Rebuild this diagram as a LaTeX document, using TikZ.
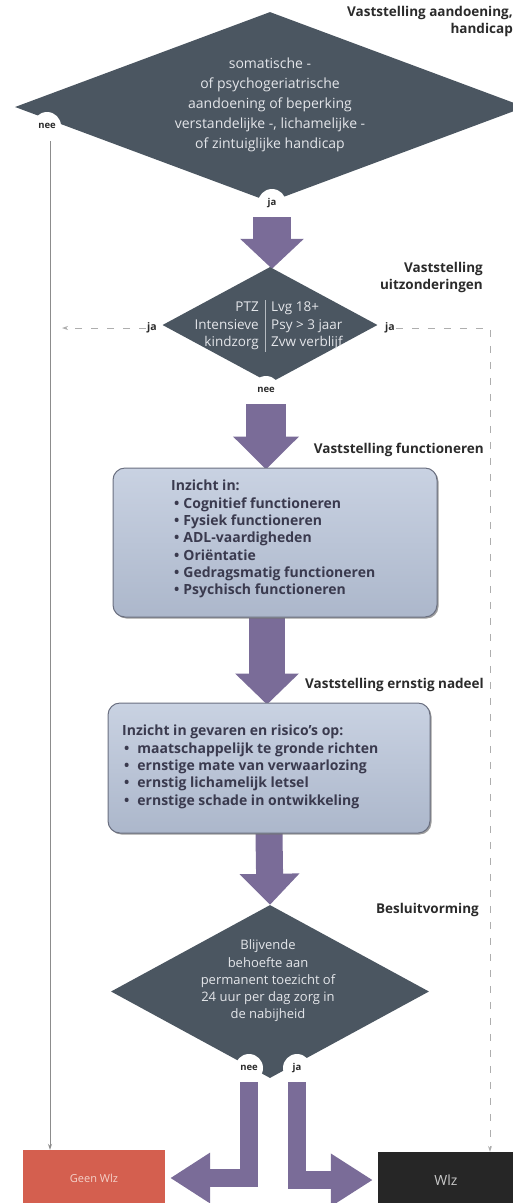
\documentclass[tikz,border=0pt]{standalone}
\usepackage{fontspec}
\setmainfont{Open Sans}
\usetikzlibrary{shapes.geometric,arrows.meta,shadows,backgrounds}
\definecolor{dia}{HTML}{4B5661}
\definecolor{purp}{HTML}{7A6C98}
\definecolor{boxA}{HTML}{C9D2E2}
\definecolor{boxB}{HTML}{ACB7CB}
\definecolor{boxedge}{HTML}{6A6F80}
\definecolor{boxtxt}{HTML}{3A3A4E}
\definecolor{lbl}{HTML}{2B2B2B}
\definecolor{diatxt}{HTML}{E4E6EA}
\definecolor{geen}{HTML}{D45F4F}
\definecolor{geentxt}{HTML}{F4D2CA}
\definecolor{wlz}{HTML}{262626}
\definecolor{wlztxt}{HTML}{C8C8C8}
\definecolor{lin}{HTML}{8C8C8C}
\tikzset{
  diabox/.style={diamond, fill=dia, inner sep=0pt},
  diatext/.style={text=diatxt, align=center, inner sep=0pt, font=\fontsize{14}{20}\selectfont},
  infobox/.style={rectangle, rounded corners=12pt, top color=boxA, bottom color=boxB, draw=boxedge, line width=1pt,
     drop shadow={shadow xshift=1.5pt, shadow yshift=-1.5pt, fill=black!55, opacity=0.7}},
  infotext/.style={text=boxtxt, align=left, inner sep=0pt, font=\bfseries\fontsize{14}{17.3}\selectfont},
  steplabel/.style={text=lbl, align=right, inner sep=0pt, font=\bfseries\fontsize{13.5}{17}\selectfont},
  circ/.style={circle, fill=white, minimum size=28pt, inner sep=0pt, text=lbl, font=\bfseries\fontsize{9.5}{10}\selectfont},
  jalbl/.style={text=lbl, inner sep=1pt, font=\bfseries\fontsize{10.5}{11}\selectfont},
  bigarrow/.style={purp, line join=miter},
  conn/.style={lin, line width=0.9pt},
  dconn/.style={lin!70, line width=0.9pt, dash pattern=on 7pt off 9pt},
  endbox/.style={rectangle, inner sep=0pt}
}
\begin{document}
\begin{tikzpicture}[x=1pt,y=-1pt]
\useasboundingbox (0,0) rectangle (512,1203);

% decision 1
\node[diabox, minimum width=510pt, minimum height=190pt] (d1) at (270,107) {};
\node[diatext] (t1) at (270,105) {somatische -\\of psychogeriatrische\\aandoening of beperking\\verstandelijke -, lichamelijke -\\of zintuiglijke handicap};
\node[circ] (nee1) at (47,126) {nee};
\node[circ] (ja1) at (272,203) {ja};
\node[steplabel, anchor=north east] (s1) at (513,6) {Vaststelling aandoening,\\handicap};

% decision 2
\node[diabox, minimum width=215pt, minimum height=116pt] (d2) at (270,325) {};
\node[diatext, align=right, anchor=east, font=\fontsize{13.5}{17.5}\selectfont] (t2a) at (259,326) {PTZ\\Intensieve\\kindzorg};
\node[diatext, align=left, anchor=west, font=\fontsize{13.5}{17.5}\selectfont] (t2b) at (271,326) {Lvg 18+\\Psy > 3 jaar\\Zvw verblijf};
\coordinate (dv1) at (265,300);
\coordinate (dv2) at (265,352);
\draw[diatxt!70!dia, line width=0.6pt] (dv1) -- (dv2);
\node[circ] (nee2) at (266,390) {nee};
\node[jalbl] (jl) at (152,328) {ja};
\node[jalbl] (jr) at (390,328) {ja};
\node[steplabel, anchor=north east] (s2) at (483,262) {Vaststelling\\uitzonderingen};

% functioneren
\node[steplabel, anchor=east] (s3) at (484,450) {Vaststelling functioneren};
\node[infobox, minimum width=324pt, minimum height=149pt] (b1) at (275,542.5) {};
\node[infotext, anchor=north west] (b1t) at (171,480) {Inzicht in:\\
\hspace{3pt}\textbullet\hspace{4pt}Cognitief functioneren\\
\hspace{3pt}\textbullet\hspace{4pt}Fysiek functioneren\\
\hspace{3pt}\textbullet\hspace{4pt}ADL-vaardigheden\\
\hspace{3pt}\textbullet\hspace{4pt}Oriëntatie\\
\hspace{3pt}\textbullet\hspace{4pt}Gedragsmatig functioneren\\
\hspace{3pt}\textbullet\hspace{4pt}Psychisch functioneren};

% ernstig nadeel
\node[steplabel, anchor=east] (s4) at (484,685) {Vaststelling ernstig nadeel};
\node[infobox, minimum width=322pt, minimum height=130pt] (b2) at (269,768) {};
\node[infotext, anchor=north west] (b2t) at (122,725) {Inzicht in gevaren en risico's op:\\
\hspace{2pt}\textbullet\hspace{8pt}maatschappelijk te gronde richten\\
\hspace{2pt}\textbullet\hspace{8pt}ernstige mate van verwaarlozing\\
\hspace{2pt}\textbullet\hspace{8pt}ernstig lichamelijk letsel\\
\hspace{2pt}\textbullet\hspace{8pt}ernstige schade in ontwikkeling};

% besluitvorming
\node[steplabel, anchor=east] (s5) at (479,910) {Besluitvorming};
\node[diabox, minimum width=318pt, minimum height=173pt] (d3) at (270,991.5) {};
\node[diatext, font=\fontsize{13}{17.2}\selectfont] (t3) at (268,981) {Blijvende\\behoefte aan\\permanent toezicht of\\24 uur per dag zorg in\\de nabijheid};
\node[circ] (nee3) at (249,1068) {nee};
\node[circ] (ja3) at (297,1068) {ja};

% end boxes
\node[endbox, fill=geen, text=geentxt, minimum width=142pt, minimum height=56pt, font=\fontsize{11}{12}\selectfont] (geen) at (94,1178) {Geen Wlz};
\node[endbox, fill=wlz, text=wlztxt, minimum width=136pt, minimum height=56pt, font=\fontsize{14}{14}\selectfont] (wlz) at (446,1180) {Wlz};

% connectors
\coordinate (l1) at (50,141);
\draw[conn, -{Stealth[length=6pt,width=4pt]}] (l1) -- (l1 |- geen.north);
\coordinate (lc) at (62,328);
\draw[dconn, -{Stealth[length=6pt,width=4pt]}] (jl.west) -- (lc);
\coordinate (rc) at (490,328);
\draw[dconn, -{Stealth[length=6pt,width=4pt]}] (jr.east) -- (rc) -- (rc |- wlz.north);

\begin{scope}[on background layer]
\draw[bigarrow, line width=38pt, -{Triangle[length=30pt,width=62pt]}] (ja1) -- ([yshift=-2pt]ja1 |- d2.north);
\draw[bigarrow, line width=40pt, -{Triangle[length=33pt,width=64pt]}] (nee2) -- ([yshift=-2pt]nee2 |- b1.north);
\draw[bigarrow, line width=36pt, -{Triangle[length=31pt,width=62pt]}] ([xshift=-8pt]b1.south) -- ([xshift=-8pt,yshift=-2pt]b1.south |- b2.north);
\draw[bigarrow, line width=27pt, -{Triangle[length=31pt,width=58pt]}] (b2.south) -- (d3.north);
\draw[bigarrow, line width=18pt, -{Triangle[length=40pt,width=48pt]}] (nee3) |- ([xshift=5pt]geen.east);
\draw[bigarrow, line width=18pt, -{Triangle[length=42pt,width=50pt]}] (ja3) |- ([xshift=-5pt]wlz.west);
\end{scope}
\end{tikzpicture}
\end{document}
